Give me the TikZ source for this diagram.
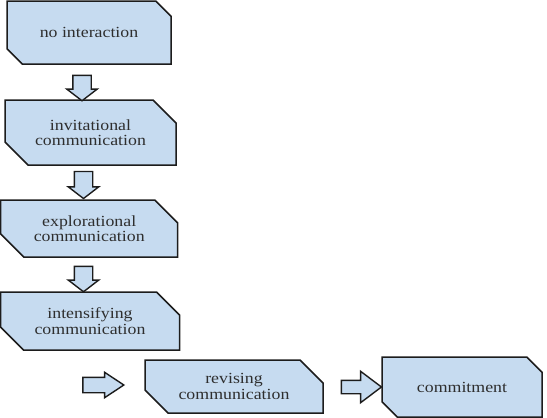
\documentclass[tikz,border=0pt]{standalone}
\usepackage{fontspec}
\setmainfont{Liberation Serif}[FakeStretch=1.15]
\usetikzlibrary{shapes.misc,shapes.arrows}
\definecolor{boxfill}{HTML}{C6DBF0}
\definecolor{boxline}{HTML}{1C1C1C}
\definecolor{txt}{HTML}{2E2E2E}
\tikzset{
  stagebox/.style={chamfered rectangle,
    chamfered rectangle corners={north east,south west},
    chamfered rectangle xsep=13pt, chamfered rectangle ysep=10pt,
    draw=boxline, fill=boxfill, line width=1.5pt, inner sep=0pt,
    align=center, text=txt,
    font=\fontsize{15.5}{15.5}\selectfont},
  blockarrow/.style={single arrow, draw=boxline, fill=boxfill,
    line width=1.4pt, single arrow head indent=0pt},
  downarrow/.style={blockarrow, shape border rotate=270,
    inner sep=8.5pt, minimum width=29pt, single arrow head extend=6pt,
    single arrow tip angle=105},
  rightarrow/.style={blockarrow, shape border rotate=0}
}
\begin{document}
\begin{tikzpicture}[x=1pt,y=-1pt]
\useasboundingbox (0,0) rectangle (547,418);
\node[stagebox, minimum width=164pt, minimum height=63pt] (b1) at (89,32.5) {\raisebox{-2pt}{no interaction}};
\node[stagebox, minimum width=171pt, minimum height=65pt] (b2) at (90.5,132.5) {invitational\\communication};
\node[stagebox, minimum width=177pt, minimum height=57pt] (b3) at (89.2,228.5) {explorational\\communication};
\node[stagebox, minimum width=179pt, minimum height=58pt] (b4) at (90,321) {intensifying\\communication};
\node[stagebox, minimum width=178pt, minimum height=53pt] (b5) at (234,386.5) {revising\\communication};
\node[stagebox, minimum width=160pt, minimum height=60pt] (b6) at (462,387) {commitment};
\node[downarrow, minimum height=25pt] (a1) at (82,84.5) {};
\node[downarrow, minimum height=27pt] (a2) at (83.5,181.5) {};
\node[downarrow, minimum height=25pt] (a3) at (83.5,275.5) {};
\node[rightarrow, inner sep=7pt, minimum height=41pt, minimum width=24pt,
  single arrow head extend=5pt, single arrow tip angle=67] (a4) at (97.5,385) {};
\node[rightarrow, inner sep=6pt, minimum height=40pt, minimum width=30pt,
  single arrow head extend=9pt, single arrow tip angle=74] (a5) at (357,387) {};
\end{tikzpicture}
\end{document}
